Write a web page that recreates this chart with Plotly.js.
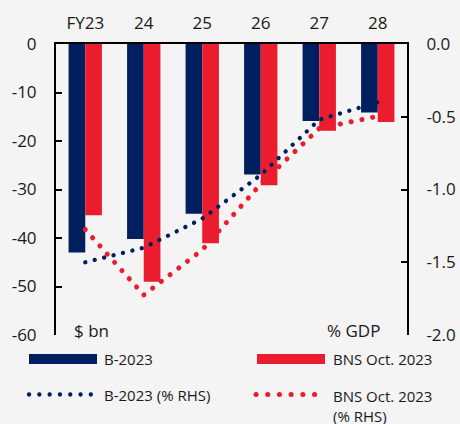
<!DOCTYPE html>
<html>
<head>
<meta charset="utf-8">
<script src="https://cdn.plot.ly/plotly-3.0.1.min.js"></script>
<style>
html,body{margin:0;padding:0;background:#f3f4f3;}
#chart{width:460px;height:424px;}
.scatterlayer .js-line{stroke-linecap:round;}
.shapelayer path{stroke-linecap:round;}
</style>
</head>
<body>
<div id="chart"></div>
<script>
// ---- data ----
const categories = ['FY23', '24', '25', '26', '27', '28'];
const b2023 = [-43.0, -40.2, -35.0, -26.9, -15.9, -14.1];          // $ bn
const bnsOct2023 = [-35.3, -49.0, -41.1, -29.1, -17.9, -16.1];      // $ bn
const b2023Gdp = [-1.50, -1.40, -1.20, -0.90, -0.52, -0.40];        // % GDP (RHS)
const bnsOct2023Gdp = [-1.275, -1.725, -1.415, -0.962, -0.58, -0.497]; // % GDP (RHS)
const leftTickVals = [-60, -50, -40, -30, -20, -10, 0];
const leftTickText = ['-60', '-50', '-40', '-30', '-20', '-10', '0'];
const rightTickVals = [-2, -1.5, -1, -0.5, 0];
const rightTickText = ['-2.0', '-1.5', '-1.0', '-0.5', '0.0'];
const seriesNames = ['B-2023', 'BNS Oct. 2023', 'B-2023 (% RHS)', 'BNS Oct. 2023<br>(% RHS)'];

// ---- style ----
const NAVY = '#001f5e';
const RED = '#ec1c2f';
const BG = '#f3f4f3';
const FONT = 'Open Sans, sans-serif';

const W = 460, H = 424;
const M = {l: 56, r: 53, t: 44, b: 89};
const pw = W - M.l - M.r, ph = H - M.t - M.b;
const px = x => (x - M.l) / pw;
const py = y => (H - M.b - y) / ph;

const traces = [
  {type: 'bar', x: categories, y: b2023, name: seriesNames[0], marker: {color: NAVY}, xaxis: 'x', yaxis: 'y', hoverinfo: 'none'},
  {type: 'bar', x: categories, y: bnsOct2023, name: seriesNames[1], marker: {color: RED}, xaxis: 'x', yaxis: 'y', hoverinfo: 'none'},
  {type: 'scatter', mode: 'lines', x: categories, y: b2023Gdp, name: seriesNames[2], line: {color: NAVY, width: 4.3, dash: '0.1px,9.6px'}, xaxis: 'x', yaxis: 'y2', hoverinfo: 'none'},
  {type: 'scatter', mode: 'lines', x: categories, y: bnsOct2023Gdp, name: seriesNames[3], line: {color: RED, width: 5, dash: '0.1px,10.9px'}, xaxis: 'x', yaxis: 'y2', hoverinfo: 'none'}
];

const tickFont = {family: FONT, size: 17, color: '#1a1a1a'};
const legFont = {family: FONT, size: 15, color: '#1a1a1a'};

const shapes = [
  {type: 'rect', xref: 'paper', yref: 'paper', x0: px(29), x1: px(97), y0: py(364), y1: py(354), fillcolor: NAVY, line: {width: 0}},
  {type: 'rect', xref: 'paper', yref: 'paper', x0: px(257), x1: px(325), y0: py(364), y1: py(354), fillcolor: RED, line: {width: 0}},
  {type: 'line', xref: 'paper', yref: 'paper', x0: px(29), x1: px(91), y0: py(394.5), y1: py(394.5), line: {color: NAVY, width: 4.3, dash: '0.1px,10.2px'}},
  {type: 'line', xref: 'paper', yref: 'paper', x0: px(256), x1: px(326), y0: py(394.5), y1: py(394.5), line: {color: RED, width: 5, dash: '0.1px,11.6px'}}
];

const annotations = [
  {text: '$ bn', xref: 'paper', yref: 'paper', x: px(72), y: py(330), xanchor: 'left', yanchor: 'middle', showarrow: false, font: tickFont},
  {text: '% GDP', xref: 'paper', yref: 'paper', x: px(382), y: py(330), xanchor: 'right', yanchor: 'middle', showarrow: false, font: tickFont},
  {text: seriesNames[0], xref: 'paper', yref: 'paper', x: px(102), y: py(359), xanchor: 'left', yanchor: 'middle', showarrow: false, font: legFont},
  {text: seriesNames[1], xref: 'paper', yref: 'paper', x: px(331), y: py(359), xanchor: 'left', yanchor: 'middle', showarrow: false, font: legFont},
  {text: seriesNames[2], xref: 'paper', yref: 'paper', x: px(102), y: py(394.5), xanchor: 'left', yanchor: 'middle', showarrow: false, font: legFont},
  {text: seriesNames[3], xref: 'paper', yref: 'paper', x: px(331), y: py(384), xanchor: 'left', yanchor: 'top', align: 'left', showarrow: false, font: legFont}
];

const layout = {
  width: W, height: H,
  margin: M,
  paper_bgcolor: BG, plot_bgcolor: BG,
  showlegend: false,
  barmode: 'group', bargap: 0.43, bargroupgap: 0,
  font: {family: FONT, size: 17, color: '#1a1a1a'},
  xaxis: {
    type: 'category', side: 'top', range: [-0.5, 5.5], anchor: 'y',
    showline: true, linecolor: '#000', linewidth: 2, mirror: false,
    ticks: '', showgrid: false, zeroline: false, tickfont: tickFont, ticklabelstandoff: 6
  },
  xaxis2: {
    type: 'linear', side: 'top', overlaying: 'x', anchor: 'y', range: [-0.5, 5.5],
    tickmode: 'array', tickvals: [-0.5, 1.5, 3.5, 5.5], showticklabels: false,
    ticks: 'outside', ticklen: 6, tickwidth: 2, tickcolor: '#000',
    showline: false, showgrid: false, zeroline: false
  },
  yaxis: {
    range: [-60, 0], tickmode: 'array', tickvals: leftTickVals, ticktext: leftTickText,
    ticks: 'inside', ticklen: 6, tickwidth: 2, tickcolor: '#000',
    showline: true, linecolor: '#000', linewidth: 2,
    showgrid: false, zeroline: false, tickfont: tickFont, ticklabelstandoff: 14
  },
  yaxis2: {
    range: [-2, 0], overlaying: 'y', side: 'right', anchor: 'x', tickmode: 'array', tickvals: rightTickVals, ticktext: rightTickText,
    ticks: 'inside', ticklen: 6, tickwidth: 2, tickcolor: '#000',
    showline: true, linecolor: '#000', linewidth: 2,
    showgrid: false, zeroline: false, tickfont: tickFont, ticklabelstandoff: 14
  },
  shapes: shapes,
  annotations: annotations
};

Plotly.newPlot('chart', traces, layout, {staticPlot: true, displayModeBar: false});
</script>
</body>
</html>
